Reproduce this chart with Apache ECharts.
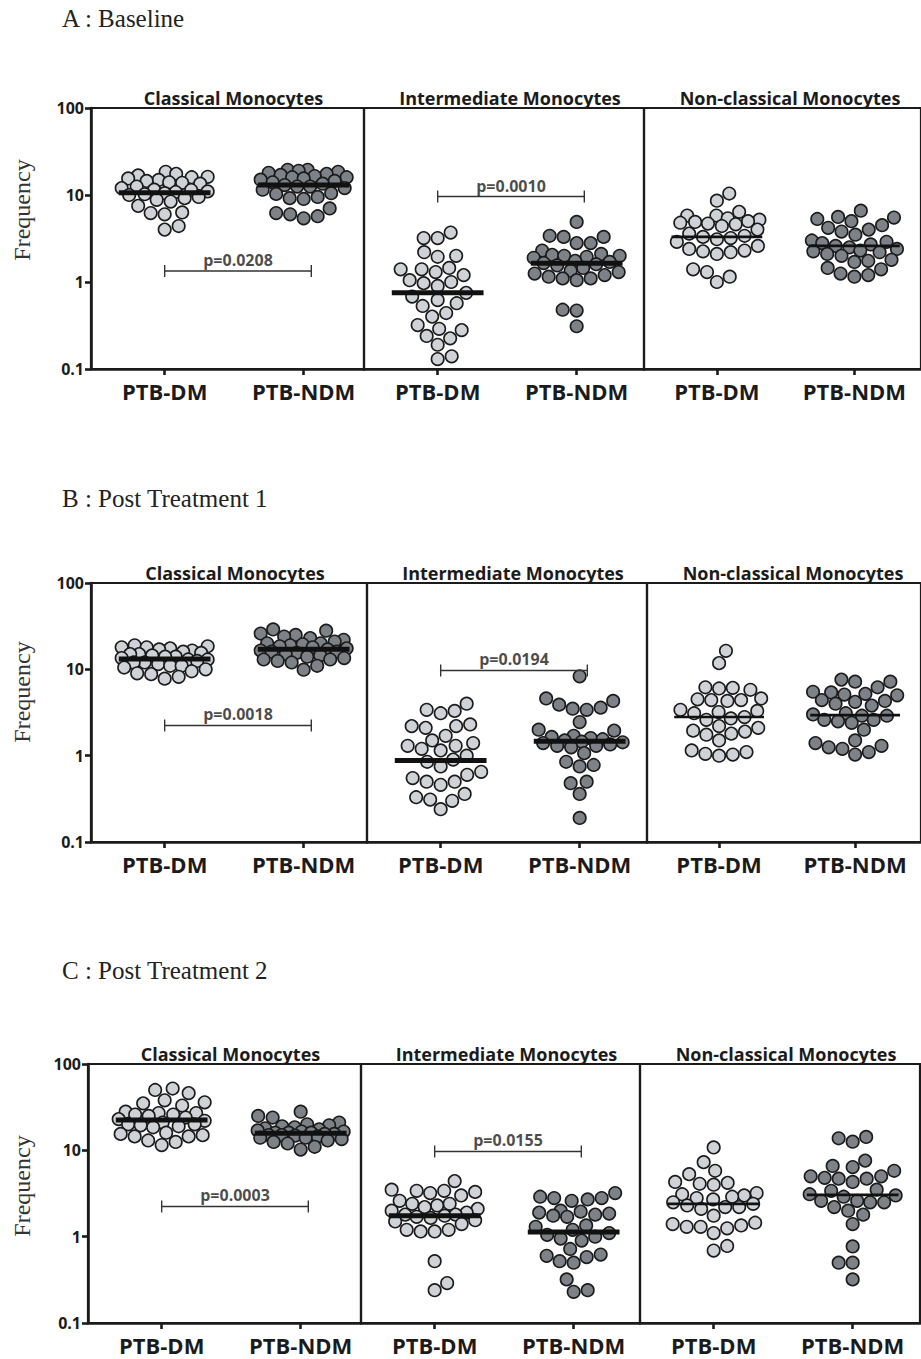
<!DOCTYPE html>
<html>
<head>
<meta charset="utf-8">
<title>Monocyte subsets in PTB-DM and PTB-NDM</title>
<script src="https://cdn.jsdelivr.net/npm/echarts@6/dist/echarts.min.js"></script>
<style>
  html, body { margin: 0; padding: 0; background: #ffffff; overflow: hidden; }
  #chart { width: 921px; height: 1359px; }
</style>
</head>
<body>
<div id="chart"></div>
<script>
// ---- Labels ----
const groups = ['PTB-DM', 'PTB-NDM'];
const subsets = ['Classical Monocytes', 'Intermediate Monocytes', 'Non-classical Monocytes'];
const panelTitles = ['A : Baseline', 'B : Post Treatment 1', 'C : Post Treatment 2'];
const yTicks = [0.1, 1, 10, 100];

// ---- A : Baseline (frequency, %) ----
const baseClassicalDM = [18.5, 17.5, 16.8, 16.2, 16, 15.5, 14.9, 14.5, 14, 13.8, 13.5, 12.5, 12, 11.5, 11.4, 11, 10.8, 10.5, 10.2, 10, 9.5, 9.2, 8.8, 8.4, 7.5, 6.3, 6.2, 6.0, 4.4, 4.0];
const baseClassicalNDM = [19.5, 19.5, 19, 18.5, 18, 17.5, 17, 16.5, 16, 16, 15.5, 15, 14.5, 14, 13.5, 13, 12.5, 12.5, 12, 11.5, 10.5, 10.3, 9.5, 9.2, 9, 7, 6.2, 6, 5.7, 5.4];
const baseInterDM = [3.7, 3.2, 3.2, 2.2, 2.0, 1.95, 1.45, 1.4, 1.4, 1.3, 1.2, 1.05, 1.0, 0.97, 0.75, 0.68, 0.62, 0.57, 0.53, 0.44, 0.40, 0.32, 0.29, 0.28, 0.24, 0.225, 0.19, 0.14, 0.13, 0.9];
const baseInterNDM = [4.9, 3.4, 3.3, 3.3, 2.8, 2.8, 2.3, 2.1, 2.05, 2.0, 2.0, 1.95, 1.9, 1.75, 1.7, 1.65, 1.6, 1.55, 1.45, 1.35, 1.3, 1.25, 1.2, 1.15, 1.1, 1.05, 1.1, 0.48, 0.47, 0.31];
const baseNonDM = [10.4, 8.6, 6.4, 5.8, 5.8, 5.4, 5.2, 5.0, 4.9, 4.8, 4.7, 4.6, 4.4, 4.0, 3.6, 3.4, 3.3, 3.2, 3.1, 2.9, 2.6, 2.4, 2.3, 2.25, 2.2, 2.1, 1.4, 1.3, 1.15, 1.0];
const baseNonNDM = [6.6, 5.6, 5.5, 5.3, 5.0, 4.5, 4.2, 4.0, 3.8, 3.5, 3.0, 2.9, 2.8, 2.7, 2.6, 2.5, 2.4, 2.3, 2.25, 2.2, 2.1, 2.0, 1.8, 1.75, 1.7, 1.45, 1.4, 1.25, 1.2, 1.15];
const baseMedians = [[10.6, 13.0], [0.75, 1.64], [3.3, 2.6]];
const basePValues = ['p=0.0208', 'p=0.0010', null];
const baseBracketLevels = [1.34, 9.6, null];

// ---- B : Post Treatment 1 ----
const post1ClassicalDM = [19, 18.5, 18, 18, 17.5, 17, 16.5, 16, 15.5, 15, 15, 14.5, 14, 14, 13.5, 13, 13, 12.5, 12, 12, 11.5, 11, 11, 10.5, 10, 9.5, 9, 8.8, 8.2, 7.8];
const post1ClassicalNDM = [29, 28, 26, 25, 24, 23, 22, 21, 20, 20, 19.5, 19, 18.5, 18, 17.5, 17, 16.5, 16, 16, 15.5, 15, 14.5, 14, 13.5, 13, 13, 12.5, 12, 11, 9.9];
const post1InterDM = [4.0, 3.4, 3.3, 3.1, 2.3, 2.2, 2.2, 2.1, 1.7, 1.5, 1.3, 1.2, 1.15, 1.3, 1.4, 1.0, 0.9, 0.85, 0.75, 0.65, 0.6, 0.55, 0.5, 0.46, 0.5, 0.36, 0.33, 0.3, 0.31, 0.24];
const post1InterNDM = [8.3, 4.6, 4.3, 3.9, 3.6, 3.5, 3.4, 2.45, 2.0, 1.95, 1.7, 1.65, 1.6, 1.55, 1.5, 1.45, 1.43, 1.4, 1.35, 1.3, 1.3, 1.25, 1.07, 0.85, 0.78, 0.75, 0.5, 0.48, 0.36, 0.19];
const post1NonDM = [16.4, 11.8, 6.2, 6.0, 5.8, 6.1, 4.6, 4.3, 4.5, 4.4, 4.4, 3.4, 3.1, 3.2, 3.3, 2.8, 2.6, 2.7, 2.1, 1.95, 1.8, 1.75, 1.9, 2.2, 1.5, 1.15, 1.05, 1.0, 1.03, 1.1];
const post1NonNDM = [7.6, 7.2, 7.2, 6.2, 5.5, 5.4, 5.1, 5.0, 5.2, 4.4, 4.3, 4.2, 4.0, 3.8, 3.1, 3.0, 2.9, 2.9, 2.6, 2.6, 2.4, 2.5, 2.0, 1.5, 1.4, 1.3, 1.25, 1.2, 1.1, 1.03];
const post1Medians = [[13.2, 17.1], [0.88, 1.47], [2.8, 2.95]];
const post1PValues = ['p=0.0018', 'p=0.0194', null];
const post1BracketLevels = [2.24, 9.7, null];

// ---- C : Post Treatment 2 ----
const post2ClassicalDM = [52, 50, 46, 38, 36, 35, 33, 28, 27, 27, 26, 25, 26, 24, 23, 22, 21, 20, 20, 19.5, 19, 18.5, 16, 15.5, 15, 14.5, 14.5, 13, 12.5, 11.5];
const post2ClassicalNDM = [28, 25, 24, 21, 20, 19.5, 19, 18.5, 18, 17.5, 17, 16.5, 16.5, 16, 16, 16, 15.5, 15.5, 15, 15, 14.8, 14.5, 14, 14, 13.5, 13, 12.5, 12, 11, 10.2];
const post2InterDM = [4.4, 3.4, 3.3, 3.5, 3.2, 3.4, 3.0, 2.6, 2.4, 2.3, 2.4, 2.2, 2.1, 2.0, 1.9, 1.8, 1.75, 1.7, 1.65, 1.8, 1.55, 1.5, 1.4, 1.2, 1.15, 1.15, 1.2, 0.52, 0.29, 0.24];
const post2InterNDM = [3.2, 2.9, 2.8, 2.8, 2.7, 2.6, 2.0, 1.95, 1.9, 1.75, 1.7, 1.8, 1.85, 1.35, 1.3, 1.2, 1.1, 1.05, 1.0, 0.95, 0.9, 0.72, 0.62, 0.58, 0.52, 0.5, 0.6, 0.32, 0.23, 0.24];
const post2NonDM = [10.8, 7.3, 5.8, 5.3, 4.3, 4.1, 4.0, 4.2, 3.0, 3.1, 3.2, 2.9, 2.8, 2.7, 2.5, 2.4, 2.3, 2.2, 2.2, 2.1, 1.75, 1.45, 1.35, 1.3, 1.25, 1.3, 1.4, 1.1, 0.78, 0.69];
const post2NonNDM = [14.3, 13.8, 12.6, 7.6, 6.6, 5.8, 5.0, 4.7, 4.3, 4.8, 4.7, 5.0, 6.4, 3.5, 3.4, 3.1, 3.0, 2.9, 2.6, 2.5, 2.5, 2.6, 2.2, 2.0, 1.8, 1.4, 0.77, 0.5, 0.5, 0.32];
const post2Medians = [[22.5, 15.8], [1.75, 1.13], [2.4, 3.05]];
const post2PValues = ['p=0.0003', 'p=0.0155', null];
const post2BracketLevels = [2.24, 9.7, null];

// ---- Assemble per-panel data ----
const panelData = [
  { sets: [[baseClassicalDM, baseClassicalNDM], [baseInterDM, baseInterNDM], [baseNonDM, baseNonNDM]],
    medians: baseMedians, pValues: basePValues, brackets: baseBracketLevels },
  { sets: [[post1ClassicalDM, post1ClassicalNDM], [post1InterDM, post1InterNDM], [post1NonDM, post1NonNDM]],
    medians: post1Medians, pValues: post1PValues, brackets: post1BracketLevels },
  { sets: [[post2ClassicalDM, post2ClassicalNDM], [post2InterDM, post2InterNDM], [post2NonDM, post2NonNDM]],
    medians: post2Medians, pValues: post2PValues, brackets: post2BracketLevels }
];

// ---- Layout (pixels) ----
const layout = [
  { top: 108, bottom: 369, xs: [91, 364, 644], headY: 20, freqY: 210 },
  { top: 583, bottom: 842, xs: [91, 367, 647], headY: 500, freqY: 692 },
  { top: 1064, bottom: 1323, xs: [88, 361, 640], headY: 972, freqY: 1186 }
];
const LAST_WIDTH = 280;
const UNIT_PX = 139;       // pixels between the two group centres
const X_MIN = -0.53;       // axis start, in group-index units
const DOT = 12.5;          // dot diameter
const SWARM_GAP = 14;      // preferred centre-to-centre spacing of dots
const SWARM_HALF = 43;     // dots never spread wider than this from the group centre
const INK = '#1b1b1b';
const FILL = ['#cfd3d8', '#7c8287'];
const SANS = '"Open Sans", Lato, sans-serif';
const SERIF = '"Liberation Serif", "DejaVu Serif", serif';

// Sideways offsets (px): dots at similar heights sit side by side,
// and where a band is too crowded they overlap inside a fixed width.
function swarmOffsets(values, heightPx, gap, maxHalf) {
  const pts = values.map(v => ({ y: heightPx * (Math.log10(v) + 1) / 3, x: 0 }));
  const order = pts.map((p, i) => i).sort((a, b) => pts[a].y - pts[b].y);
  const placed = [];
  let pref = 1;
  order.forEach(idx => {
    const p = pts[idx];
    let chosen = null, fallback = 0, fallbackScore = -1;
    pref = -pref;
    for (let step = 0; step <= maxHalf * 2 && chosen === null; step++) {
      const mag = step / 2;
      const cands = mag === 0 ? [0] : [pref * mag, -pref * mag];
      for (const c of cands) {
        let minD = Infinity;
        placed.forEach(q => {
          const d = Math.hypot(q.x - c, q.y - p.y);
          if (d < minD) minD = d;
        });
        if (minD >= gap) { chosen = c; break; }
        if (minD > fallbackScore + 0.01) { fallbackScore = minD; fallback = c; }
      }
    }
    p.x = chosen !== null ? chosen : fallback;
    placed.push(p);
  });
  return pts.map(p => p.x);
}

const grids = [], xAxes = [], yAxes = [], series = [], graphics = [];

layout.forEach((L, p) => {
  const H = L.bottom - L.top;
  graphics.push({
    type: 'text', left: 62, top: L.headY - 14,
    style: { text: panelTitles[p], font: '25px ' + SERIF, fill: '#222' }
  });
  graphics.push({
    type: 'text', x: 22, y: L.freqY, rotation: Math.PI / 2,
    style: { text: 'Frequency', font: '24px ' + SERIF, fill: '#333', align: 'center', verticalAlign: 'middle' }
  });

  for (let s = 0; s < 3; s++) {
    const gi = p * 3 + s;
    const left = L.xs[s];
    const width = s < 2 ? L.xs[s + 1] - L.xs[s] : LAST_WIDTH;
    const xMax = X_MIN + width / UNIT_PX;

    grids.push({ left: left, top: L.top, width: width, height: H, show: true,
      borderColor: INK, borderWidth: 2.2, backgroundColor: 'transparent' });

    graphics.push({
      type: 'text', x: left + width / 2 + 6, y: L.top - 10,
      style: { text: subsets[s], font: 'bold 18px ' + SANS, fill: INK, align: 'center', verticalAlign: 'middle' }
    });

    xAxes.push({
      gridIndex: gi, type: 'value', min: X_MIN, max: xMax, position: 'bottom',
      axisLine: { show: true, onZero: false, lineStyle: { color: INK, width: 2.6 } },
      axisTick: { show: true, customValues: [0, 1], length: 6, lineStyle: { color: INK, width: 2.6 } },
      axisLabel: { show: true, customValues: [0, 1], formatter: v => groups[Math.round(v)],
        fontFamily: SANS, fontWeight: 'bold', fontSize: 22, color: INK, margin: 11 },
      splitLine: { show: false }
    });

    yAxes.push({
      gridIndex: gi, type: 'log', logBase: 10, min: yTicks[0], max: yTicks[yTicks.length - 1],
      axisLine: { show: s === 0, onZero: false, lineStyle: { color: INK, width: 2.6 } },
      axisTick: { show: s === 0, length: 6, lineStyle: { color: INK, width: 2.6 } },
      minorTick: { show: false },
      axisLabel: { show: s === 0, fontFamily: SANS, fontWeight: 'bold', fontSize: 16, color: INK, margin: 7,
        formatter: v => (v >= 1 ? String(Math.round(v)) : String(Math.round(v * 10) / 10)) },
      splitLine: { show: false }
    });

    const D = panelData[p];
    const thick = s < 2 ? 5 : 2.6;
    for (let g = 0; g < 2; g++) {
      const vals = D.sets[s][g];
      const offs = swarmOffsets(vals, H, SWARM_GAP, SWARM_HALF);
      series.push({
        type: 'scatter', xAxisIndex: gi, yAxisIndex: gi, z: 3,
        symbol: 'circle', symbolSize: DOT,
        itemStyle: { color: FILL[g], borderColor: INK, borderWidth: 1.6, opacity: 1 },
        data: vals.map((v, i) => [g + offs[i] / UNIT_PX, v]),
        silent: true
      });
      const m = D.medians[s][g];
      series.push({
        type: 'line', xAxisIndex: gi, yAxisIndex: gi, z: 5, symbol: 'none',
        lineStyle: { color: '#111', width: thick, cap: 'butt' },
        data: [[g - 0.33, m], [g + 0.33, m]], silent: true
      });
    }

    const lvl = D.brackets[s];
    if (lvl != null) {
      const k = Math.pow(10, 6 * 3 / H);
      const x1 = 1.055;
      series.push({
        type: 'line', xAxisIndex: gi, yAxisIndex: gi, z: 4, symbol: 'none',
        lineStyle: { color: '#333', width: 1.4 },
        data: [[0, lvl * k], [0, lvl / k], [0, lvl], [x1, lvl], [x1, lvl * k], [x1, lvl / k]],
        silent: true
      });
      series.push({
        type: 'scatter', xAxisIndex: gi, yAxisIndex: gi, z: 4, symbolSize: 0,
        data: [[x1 / 2, lvl]],
        label: { show: true, position: 'top', distance: 3, formatter: D.pValues[s],
          fontFamily: SANS, fontWeight: 'bold', fontSize: 16, color: INK },
        silent: true
      });
    }
  }
});

const chart = echarts.init(document.getElementById('chart'), null, { renderer: 'svg' });
chart.setOption({
  animation: false,
  backgroundColor: '#ffffff',
  grid: grids,
  xAxis: xAxes,
  yAxis: yAxes,
  series: series,
  graphic: graphics
});
</script>
</body>
</html>
